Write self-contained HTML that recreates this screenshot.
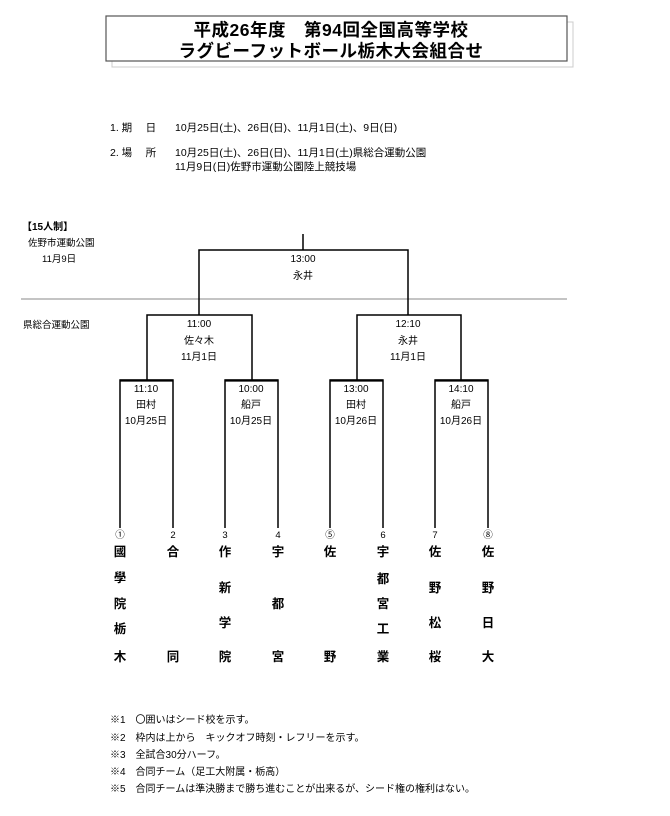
<!DOCTYPE html>
<html><head><meta charset="utf-8"><style>
html,body{margin:0;padding:0;background:#fff;}
svg{display:block;font-family:"Liberation Sans","Noto Sans CJK JP",sans-serif;}
</style></head><body>
<svg width="670" height="816" viewBox="0 0 670 816" xmlns="http://www.w3.org/2000/svg">
<rect x="112" y="22" width="461" height="45" fill="none" stroke="#ccc" stroke-width="1"/>
<rect x="106" y="16" width="461" height="45" fill="#fff" stroke="#555" stroke-width="1.2"/>
<g font-size="17.5" font-weight="bold" text-anchor="middle" fill="#000" letter-spacing="0.5">
<text x="331" y="36">平成26年度　第94回全国高等学校</text>
<text x="331" y="57">ラグビーフットボール栃木大会組合せ</text>
</g>
<g font-size="10.5" fill="#000">
<text x="110" y="131">1. 期　 日</text>
<text x="175" y="131">10月25日(土)、26日(日)、11月1日(土)、9日(日)</text>
<text x="110" y="156">2. 場　 所</text>
<text x="175" y="156">10月25日(土)、26日(日)、11月1日(土)県総合運動公園</text>
<text x="175" y="170">11月9日(日)佐野市運動公園陸上競技場</text>
<text x="22" y="230" font-size="10" font-weight="600">【15人制】</text>
<text x="28" y="246" font-size="9.5">佐野市運動公園</text>
<text x="42" y="262" font-size="9.5">11月9日</text>
<text x="23" y="328" font-size="9.5">県総合運動公園</text>
</g>
<line x1="21" y1="299" x2="567" y2="299" stroke="#888" stroke-width="1"/>
<g stroke="#000" stroke-width="1.5" fill="none">
<line x1="303" y1="234" x2="303" y2="250"/>
<polyline points="199,315 199,250 408,250 408,315"/>
<polyline points="147,380 147,315 252,315 252,380"/>
<polyline points="357,380 357,315 461,315 461,380"/>
<polyline points="120,528 120,380 173,380 173,528"/>
<polyline points="225,528 225,380 278,380 278,528"/>
<polyline points="330,528 330,380 383,380 383,528"/>
<polyline points="435,528 435,380 488,380 488,528"/>
</g>
<g stroke="#000" stroke-width="2.2">
<line x1="120" y1="380.5" x2="173" y2="380.5"/><line x1="225" y1="380.5" x2="278" y2="380.5"/>
<line x1="330" y1="380.5" x2="383" y2="380.5"/><line x1="435" y1="380.5" x2="488" y2="380.5"/>
</g>
<g font-size="10" text-anchor="middle" fill="#000">
<text x="303" y="262">13:00</text><text x="303" y="279">永井</text>
<text x="199" y="327">11:00</text><text x="199" y="344">佐々木</text><text x="199" y="360">11月1日</text>
<text x="408" y="327">12:10</text><text x="408" y="344">永井</text><text x="408" y="360">11月1日</text>
<text x="146" y="392">11:10</text><text x="146" y="408">田村</text><text x="146" y="424">10月25日</text>
<text x="251" y="392">10:00</text><text x="251" y="408">船戸</text><text x="251" y="424">10月25日</text>
<text x="356" y="392">13:00</text><text x="356" y="408">田村</text><text x="356" y="424">10月26日</text>
<text x="461" y="392">14:10</text><text x="461" y="408">船戸</text><text x="461" y="424">10月26日</text>
</g>
<g font-size="9.5" text-anchor="middle">
<text x="120" y="538">①</text><text x="173" y="538">2</text><text x="225" y="538">3</text><text x="278" y="538">4</text>
<text x="330" y="538">⑤</text><text x="383" y="538">6</text><text x="435" y="538">7</text><text x="488" y="538">⑧</text>
</g>
<g font-size="12.5" text-anchor="middle" fill="#000" font-weight="600">
<text x="120" y="556">國</text><text x="120" y="582">學</text><text x="120" y="608">院</text><text x="120" y="633">栃</text><text x="120" y="661">木</text>
<text x="173" y="556">合</text><text x="173" y="661">同</text>
<text x="225" y="556">作</text><text x="225" y="592">新</text><text x="225" y="627">学</text><text x="225" y="661">院</text>
<text x="278" y="556">宇</text><text x="278" y="608">都</text><text x="278" y="661">宮</text>
<text x="330" y="556">佐</text><text x="330" y="661">野</text>
<text x="383" y="556">宇</text><text x="383" y="583">都</text><text x="383" y="608">宮</text><text x="383" y="633">工</text><text x="383" y="661">業</text>
<text x="435" y="556">佐</text><text x="435" y="592">野</text><text x="435" y="627">松</text><text x="435" y="661">桜</text>
<text x="488" y="556">佐</text><text x="488" y="592">野</text><text x="488" y="627">日</text><text x="488" y="661">大</text>
</g>
<g font-size="10" fill="#000">
<text x="110" y="723">※1　〇囲いはシード校を示す。</text>
<text x="110" y="741">※2　枠内は上から　キックオフ時刻・レフリーを示す。</text>
<text x="110" y="758">※3　全試合30分ハーフ。</text>
<text x="110" y="775">※4　合同チーム（足工大附属・栃高）</text>
<text x="110" y="792">※5　合同チームは準決勝まで勝ち進むことが出来るが、シード権の権利はない。</text>
</g>
</svg>
</body></html>
